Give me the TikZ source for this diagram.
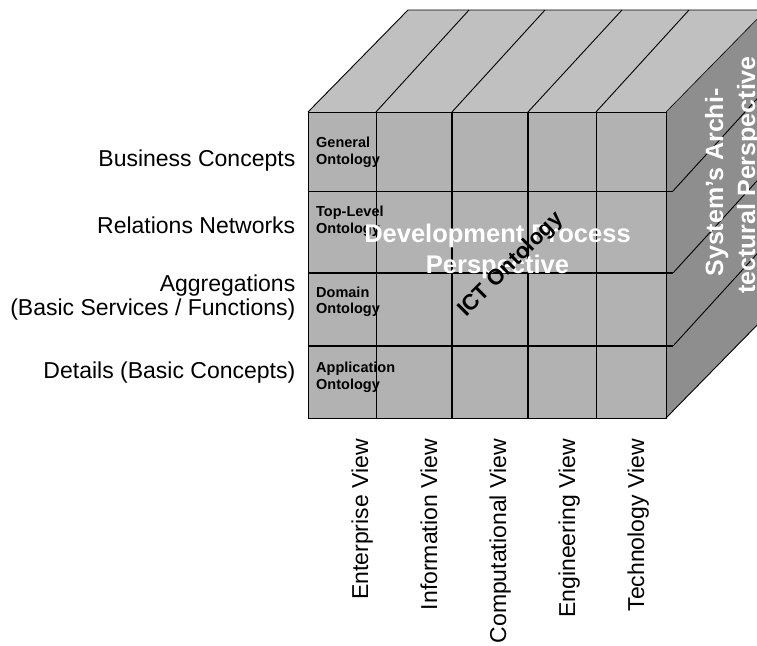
\documentclass[tikz,border=0pt]{standalone}
\usepackage{fontspec}
\setmainfont{Liberation Sans}
\definecolor{frontgray}{HTML}{B2B2B2}
\definecolor{topgray}{HTML}{C0C0C0}
\definecolor{sidegray}{HTML}{8E8E8E}
\begin{document}
\begin{tikzpicture}[x=1pt,y=-1pt,
  thinline/.style={line width=0.9pt},
  thickline/.style={line width=1.9pt},
  celllabel/.style={font=\fontsize{14.5}{17}\selectfont\bfseries, inner sep=0pt, anchor=base west},
  rowlabel/.style={font=\fontsize{23}{27}\selectfont, inner sep=0pt, anchor=base east},
  viewlabel/.style={font=\fontsize{23}{27}\selectfont, inner sep=0pt, rotate=90, anchor=base east},
  whitelabel/.style={font=\fontsize{25.5}{30}\selectfont\bfseries, text=white, inner sep=0pt, anchor=base},
  sidelabel/.style={font=\fontsize{25}{30}\selectfont\bfseries, text=white, inner sep=0pt, rotate=90, anchor=base},
  ictlabel/.style={font=\fontsize{22}{26}\selectfont\bfseries, inner sep=0pt, rotate=45}]
\clip (0,0) rectangle (757,645);
\fill[white] (0,0) rectangle (757,645);
% corners
\coordinate (FTL) at (308,112);
\coordinate (FTR) at (666,112);
\coordinate (FBL) at (308,418);
\coordinate (FBR) at (666,418);
\coordinate (BTL) at (408,10);
\coordinate (BTR) at (766,10);
\coordinate (BBR) at (766,316);
% faces
\fill[topgray] (FTL) -- (BTL) -- (BTR) -- (FTR) -- cycle;
\fill[sidegray] (FTR) -- (BTR) -- (BBR) -- (FBR) -- cycle;
\fill[frontgray] (FTL) rectangle (FBR);
% top face lines
\draw[thinline] (FTL) -- (BTL) -- (BTR);
\foreach \a/\b in {376/469,452/545,528/622,596/689}
  \draw[thinline] (\a,112) -- (\b,10);
\draw[line width=0.6pt] (FTR) -- (BTR);
% right face lines
\draw[thinline] (FBR) -- (BBR);
\foreach \y in {191,273,346}
  \draw[thinline] (673,\y) -- (766,\y-102);
% front grid
\draw[thinline] (376,112) -- (376,418);
\draw[thinline] (596,112) -- (596,418);
\draw[thickline] (452,112) -- (452,418);
\draw[thickline] (528,112) -- (528,418);
\draw[thinline] (308,191) -- (673,191);
\draw[thickline] (308,273) -- (673,273);
\draw[thickline] (308,346) -- (673,346);
\draw[thinline] (FTL) rectangle (FBR);
% cell labels
\node[celllabel] (g1) at (316,147.7) {General};
\node[celllabel] (g2) at (316,164.3) {Ontology};
\node[celllabel] (t1) at (316,216.7) {Top-Level};
\node[celllabel] (t2) at (316,233) {Ontology};
\node[celllabel] (d1) at (316,297.3) {Domain};
\node[celllabel] (d2) at (316,313) {Ontology};
\node[celllabel] (a1) at (316,372) {Application};
\node[celllabel] (a2) at (316,389) {Ontology};
% row labels
\node[rowlabel] (r1) at (295.5,166) {Business Concepts};
\node[rowlabel] (r2) at (295.5,233.3) {Relations Networks};
\node[rowlabel] (r3) at (295.5,291) {Aggregations};
\node[rowlabel] (r3b) at (295.5,315) {(Basic Services / Functions)};
\node[rowlabel] (r4) at (295.5,378.3) {Details (Basic Concepts)};
% view labels
\node[viewlabel] (v1) at (368,439) {Enterprise View};
\node[viewlabel] (v2) at (437,439) {Information View};
\node[viewlabel] (v3) at (506,439) {Computational View};
\node[viewlabel] (v4) at (575,439) {Engineering View};
\node[viewlabel] (v5) at (644,439) {Technology View};
% white perspective labels
\node[whitelabel] (dp1) at (497.5,242) {Development Process};
\node[whitelabel] (dp2) at (497.5,273) {Perspective};
\node[sidelabel] (sp1) at (723,182.5) {System’s Archi-};
\node[sidelabel] (sp2) at (755,175) {tectural Perspective};
% ICT
\node[ictlabel] (ict) at (511,265) {ICT Ontology};
\end{tikzpicture}
\end{document}
